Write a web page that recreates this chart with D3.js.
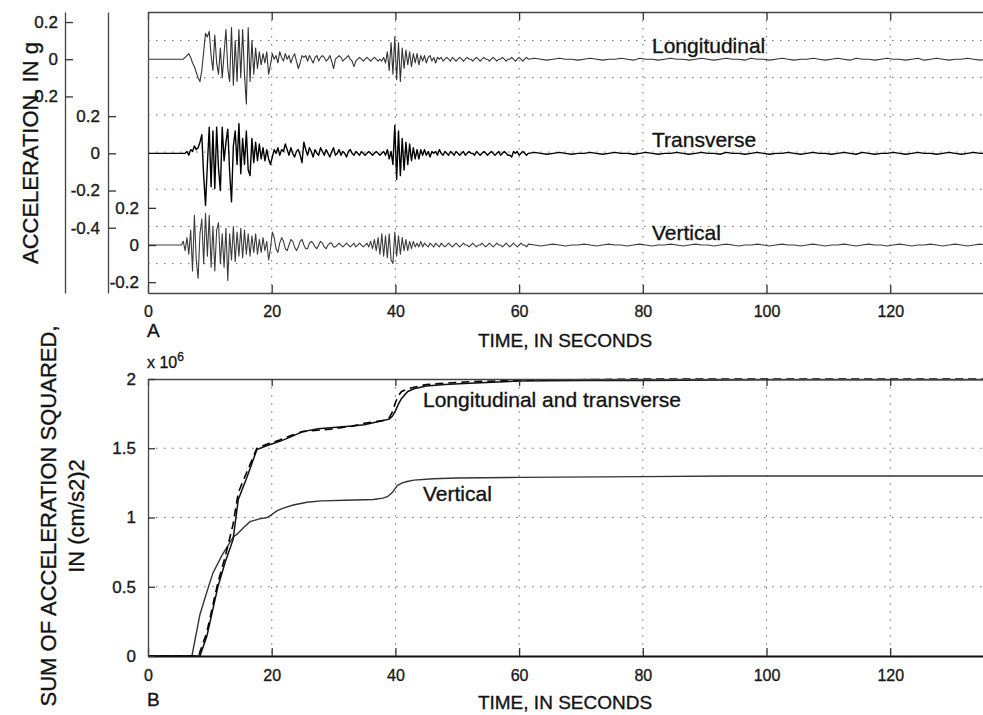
<!DOCTYPE html>
<html><head><meta charset="utf-8">
<script src="https://cdn.jsdelivr.net/npm/d3@7"></script>
<style>
body{margin:0;background:#fff;}
svg{display:block;font-family:"Liberation Sans",Arial,Helvetica,sans-serif;}
svg text{stroke:#1a1a1a;stroke-width:0.35px;}
</style></head><body>
<svg id="c" width="983" height="715"></svg>
<script>
// ---------------- DATA ----------------
const timeTicks = [0, 20, 40, 60, 80, 100, 120];
const tickLong = [-0.2, 0, 0.2];
const tickTrans = [-0.4, -0.2, 0, 0.2];
const tickVert = [-0.2, 0, 0.2];
const sumTicks = [0, 0.5, 1, 1.5, 2];

// acceleration traces, hundredths of g; main part sampled every 0.3 s from 4.5 s, coda every 1 s from 61.5 s
const mainStart = 4.5, mainStep = 0.3;
const codaStart = 61.5, codaStep = 1;

const accLong = [
  0,0,0,0,0,1,2,3,1,-2,          // 4.5
  -4,-7,-10,-12,-6,4,14,12,15,2, // 7.5
  -6,13,-2,-8,6,-10,3,16,-5,-12, // 10.5
  17,-14,10,-12,16,-10,16,-8,-24,17, // 13.5
  -12,10,-8,6,-5,4,-3,3,-2,4,    // 16.5
  -8,-3,3,0,2,-2,4,1,-1,3,       // 19.5
  0,2,-2,1,3,-1,-5,-2,2,1,       // 22.5
  2,-1,2,0,-2,1,2,-1,1,2,        // 25.5
  1,-1,0,2,-1,-5,0,1,2,1,        // 28.5
  -1,0,1,2,0,-1,-4,-1,0,1,       // 31.5
  0,-1,0,1,0,-1,0,1,0,-1,        // 34.5
  0,-1,1,-2,4,-6,9,-8,12,-11,    // 37.5
  9,-12,6,-5,5,-3,4,-4,3,-2,     // 40.5
  3,-3,2,-1,2,-2,1,2,-1,1,       // 43.5
  -2,1,0,1,-1,0,1,0,-1,1,        // 46.5
  0,-1,0,1,0,-1,0,1,0,0,         // 49.5
  -1,0,1,0,-1,0,1,0,0,-1,        // 52.5
  0,1,0,-1,0,0,1,0,-1,0,         // 55.5
  0,1,0,-1,0,1,0,-1,0,1          // 58.5
];
const accTrans = [
  0,0,0,0,0,0,1,-1,2,1,
  4,2,3,6,10,-12,-28,-6,14,-18,
  12,-19,14,-8,-20,14,-4,6,13,-10,
  -26,4,12,-6,16,-11,8,-6,12,-9,
  -12,8,-5,6,-4,5,-3,3,-4,2,
  -3,-6,-2,2,0,3,-1,2,1,5,
  2,-1,3,0,-2,1,2,-1,-5,6,
  2,-1,3,1,-2,2,0,-1,3,1,
  -1,2,0,-2,1,3,-1,0,2,-1,
  1,0,-2,1,2,0,-1,1,0,-1,
  1,0,-1,0,1,0,-1,0,1,0,
  -1,0,1,-1,2,-3,1,-6,15,-14,
  12,-12,8,-9,6,-6,5,-4,3,-3,
  2,-3,2,-1,2,-1,1,-2,1,0,
  1,-1,2,0,-1,1,0,-1,1,0,
  -1,1,0,-1,0,1,-1,0,1,0,
  0,-1,1,0,-1,0,1,0,-1,0,
  1,0,-1,0,1,-1,0,1,0,-1,
  -1,-2,1,0,1,-1,0,1,0,-1
];
const accVert = [
  0,0,0,0,2,-3,4,-5,8,-14,
  16,-8,-18,6,14,-10,17,-6,16,-12,
  10,-14,8,12,-10,6,-12,9,-19,6,
  -8,10,-9,7,-6,9,-7,8,-5,6,
  -6,5,-4,6,-5,3,-4,4,-3,2,
  -8,-2,7,4,-2,-4,1,4,2,-2,
  -3,0,3,2,-1,-3,-1,2,3,0,
  -2,-2,1,2,1,-1,-2,0,2,1,
  -1,-2,0,1,1,-1,-1,0,1,0,
  -1,0,1,0,-1,0,1,-1,0,1,
  0,-1,0,1,-1,2,-2,3,-3,4,
  -5,6,-6,5,-7,6,-8,-10,7,-6,
  5,-5,4,-3,3,-3,2,-2,2,-1,
  1,-1,2,-1,1,0,-1,1,0,-1,
  1,0,-1,1,0,-1,0,1,0,-1,
  0,1,0,-1,0,1,0,0,-1,0,
  1,0,-1,0,0,1,0,-1,0,1,
  0,-1,0,1,0,0,-1,0,1,0,
  -1,0,1,0,-1,0,1,0,0,-1
];
const codaLong = [
  0,0.5,0,-0.5,0,0.5,0,0,-0.5,0, 0.5,0,-0.5,0,0,0.5,0,-0.5,0.5,0,
  0,-0.5,0,0.5,0,0,-0.5,0,0.5,0, -0.5,0,0.5,0,0,-0.5,0.5,0,0,-0.5,
  0,0.5,0,-0.5,0,0,0.5,0,-0.5,0, 0.5,0,-0.5,0.5,0,0,-0.5,0,0.5,0,
  0,-0.5,0,0.5,-0.5,0,0.5,0,-0.5,0, 0,0.5,0,-0.5,0
];
const codaTrans = [
  0,0.5,0,-0.5,0,0.5,0,-0.5,0,0, 0.5,0,-0.5,0,0.5,0,0,-0.5,0,0.5,
  0,-0.5,0,0,0.5,0,-0.5,0,0.5,0, 0,-0.5,0.5,0,0,-0.5,0,0.5,0,-0.5,
  0,0,0.5,0,-0.5,0,0.5,0,0,-0.5, 0,0.5,0,-0.5,0.5,0,-0.5,0,0,0.5,
  0,-0.5,0,0.5,0,0,-0.5,0,0.5,0, -0.5,0,0.5,0,0
];
const codaVert = [
  0.5,0,-0.5,0,0.5,0,-0.5,0,0,0.5, 0,-0.5,0,0.5,0,0,-0.5,0,0.5,0,
  -0.5,0,0,0.5,0,-0.5,0,0.5,0,0, -0.5,0,0.5,0,-0.5,0,0,0.5,0,-0.5,
  0,0.5,0,0,-0.5,0,0.5,0,-0.5,0, 0,0.5,0,-0.5,0,0.5,0,0,-0.5,0,
  0.5,0,-0.5,0,0,0.5,0,-0.5,0,0.5, 0,-0.5,0,0.5,0
];

// cumulative sum of acceleration squared, x 10^6 (cm/s^2)^2
const tSumLT = [0,8.2,8.4,9.5,11.3,12.5,13.75,14.6,16,17.6,19.3,21.3,23,25,27.5,30,33,35,38,39,39.5,40,40.5,41,42,43,45,48,52,60,70,80,100,120,135];
const sumLong = [0,0,0,0.14,0.5,0.68,0.84,1.13,1.29,1.49,1.52,1.55,1.58,1.62,1.64,1.65,1.66,1.67,1.7,1.71,1.73,1.77,1.82,1.86,1.91,1.93,1.95,1.96,1.97,1.985,1.99,1.99,1.995,1.995,1.995];
const sumTrans = [0,0,0.03,0.17,0.53,0.72,0.95,1.18,1.33,1.5,1.53,1.56,1.59,1.62,1.63,1.64,1.66,1.68,1.7,1.72,1.76,1.83,1.88,1.91,1.93,1.94,1.96,1.97,1.98,1.99,1.995,2.0,2.0,2.0,2.0];
const tSumV = [0,7.1,8.4,9.5,10.5,12,13.8,14.4,15.5,16.5,18,19.3,20.9,22,23.5,25.7,28,32,36.4,38,38.7,39.5,40.3,41.1,41.9,43,46.1,50,60,80,93.7,110,135];
const sumVert = [0,0,0.3,0.46,0.6,0.73,0.86,0.88,0.93,0.97,0.99,1.0,1.05,1.07,1.09,1.11,1.12,1.125,1.13,1.14,1.15,1.18,1.23,1.25,1.26,1.27,1.28,1.285,1.29,1.295,1.3,1.3,1.3];

// ---------------- LAYOUT ----------------
const svg = d3.select("#c");
const A = {l:148, r:983, t:12, b:293};
const B = {l:148, r:983, t:379, b:656};
const timeDomain = [0, 135];
const domLong = [-1.257, 0.254], domTrans = [-0.751, 0.760], domVert = [-0.258, 1.253];
const gridA = [-0.1, 0.1, 0.3, 0.5, 0.7, 0.9, 1.1]; // in vertical-axis units

const xA = d3.scaleLinear().domain(timeDomain).range([A.l, A.r]);
const xB = d3.scaleLinear().domain(timeDomain).range([B.l, B.r]);
const yL = d3.scaleLinear().domain(domLong).range([A.b, A.t]);
const yT = d3.scaleLinear().domain(domTrans).range([A.b, A.t]);
const yV = d3.scaleLinear().domain(domVert).range([A.b, A.t]);
const yS = d3.scaleLinear().domain([0, 2]).range([B.b, B.t]);

const defs = svg.append("defs");
defs.append("clipPath").attr("id","clipA").append("rect")
  .attr("x",A.l).attr("y",A.t).attr("width",A.r-A.l).attr("height",A.b-A.t);
defs.append("clipPath").attr("id","clipB").append("rect")
  .attr("x",B.l).attr("y",B.t-1).attr("width",B.r-B.l).attr("height",B.b-B.t+1);

const gridStyle = s => s.attr("stroke","#777").attr("stroke-width",1).attr("stroke-dasharray","1.6,6.4").attr("fill","none");

// ---- Panel A grid ----
const gA = svg.append("g");
gA.selectAll("line.hg").data(gridA).enter().append("line")
  .attr("x1",A.l).attr("x2",A.r).attr("y1",d=>yV(d)).attr("y2",d=>yV(d)).call(gridStyle);
gA.selectAll("line.vg").data(timeTicks.slice(1)).enter().append("line")
  .attr("y1",A.t).attr("y2",A.b).attr("x1",d=>xA(d)).attr("x2",d=>xA(d)).call(gridStyle);

// ---- Panel A traces ----
function buildTrace(main, coda){
  const pts = [[0,0]];
  main.forEach((v,i)=>pts.push([mainStart+i*mainStep, v/100]));
  coda.forEach((v,i)=>pts.push([codaStart+i*codaStep, v/100]));
  return pts;
}
const traces = [
  {data: buildTrace(accLong, codaLong), y: yL, color:"#333", w:1.1},
  {data: buildTrace(accTrans, codaTrans), y: yT, color:"#000", w:1.4},
  {data: buildTrace(accVert, codaVert), y: yV, color:"#3c3c3c", w:1.1}
];
const gTr = svg.append("g").attr("clip-path","url(#clipA)");
traces.forEach(tr=>{
  gTr.append("path").datum(tr.data)
    .attr("fill","none").attr("stroke",tr.color).attr("stroke-width",tr.w).attr("stroke-linejoin","round")
    .attr("d", d3.line().x(d=>xA(d[0])).y(d=>tr.y(d[1])));
});

// ---- Panel A axes ----
function styleAxis(g, fs){
  g.selectAll(".domain").attr("stroke","#444").attr("stroke-width",1.3);
  g.selectAll(".tick line").attr("stroke","#333").attr("stroke-width",1.3);
  g.selectAll(".tick text").attr("font-size",fs).attr("fill","#1a1a1a")
    .attr("font-family","'Liberation Sans',Arial,Helvetica,sans-serif");
}
svg.append("g").attr("transform",`translate(0,${A.b})`)
  .call(d3.axisBottom(xA).tickValues(timeTicks).tickSizeInner(-8).tickSizeOuter(0).tickPadding(13).tickFormat(String))
  .call(g=>styleAxis(g,16));
svg.append("g").attr("transform",`translate(0,${A.t})`)
  .call(d3.axisTop(xA).tickValues(timeTicks).tickSizeInner(-8).tickSizeOuter(0).tickFormat(""))
  .call(g=>styleAxis(g,16));
svg.append("g").attr("transform","translate(65,0)")
  .call(d3.axisLeft(yL).tickValues(tickLong).tickSizeInner(-8).tickSizeOuter(0).tickPadding(7).tickFormat(String))
  .call(g=>styleAxis(g,17));
svg.append("g").attr("transform","translate(108,0)")
  .call(d3.axisLeft(yT).tickValues(tickTrans).tickSizeInner(-8).tickSizeOuter(0).tickPadding(8).tickFormat(String))
  .call(g=>styleAxis(g,17));
svg.append("g").attr("transform",`translate(${A.l},0)`)
  .call(d3.axisLeft(yV).tickValues(tickVert).tickSizeInner(-8).tickSizeOuter(0).tickPadding(9).tickFormat(String))
  .call(g=>styleAxis(g,17));

// ---- Panel A labels ----
const font = "'Liberation Sans',Arial,Helvetica,sans-serif";
function txt(x,y,s,fs,anchor){
  return svg.append("text").attr("x",x).attr("y",y).attr("font-size",fs).attr("fill","#111")
    .attr("font-family",font).attr("text-anchor",anchor||"start").text(s);
}
txt(652,53,"Longitudinal",21);
txt(652,147,"Transverse",21);
txt(652,240,"Vertical",21);
txt(147,337,"A",19);
txt(565,347,"TIME, IN SECONDS",19,"middle");
svg.append("text").attr("transform","translate(38,153) rotate(-90)")
  .attr("text-anchor","middle").attr("font-size",22).attr("fill","#111").attr("font-family",font)
  .text("ACCELERATION, IN g");

// ---- Panel B grid ----
const gB = svg.append("g");
gB.selectAll("line.hg").data(sumTicks.slice(1,4)).enter().append("line")
  .attr("x1",B.l).attr("x2",B.r).attr("y1",d=>yS(d)).attr("y2",d=>yS(d)).call(gridStyle);
gB.selectAll("line.vg").data(timeTicks.slice(1)).enter().append("line")
  .attr("y1",B.t).attr("y2",B.b).attr("x1",d=>xB(d)).attr("x2",d=>xB(d)).call(gridStyle);

// ---- Panel B curves ----
const gC = svg.append("g").attr("clip-path","url(#clipB)");
const lineB = d3.line().x(d=>xB(d[0])).y(d=>yS(d[1]));
gC.append("path").datum(tSumV.map((t,i)=>[t,sumVert[i]]))
  .attr("fill","none").attr("stroke","#333").attr("stroke-width",1.4).attr("d",lineB);
gC.append("path").datum(tSumLT.map((t,i)=>[t,sumLong[i]]))
  .attr("fill","none").attr("stroke","#111").attr("stroke-width",1.5).attr("d",lineB);
gC.append("path").datum(tSumLT.map((t,i)=>[t,sumTrans[i]]))
  .attr("fill","none").attr("stroke","#000").attr("stroke-width",1.6).attr("stroke-dasharray","8,5").attr("d",lineB);

// ---- Panel B axes ----
svg.append("g").attr("transform",`translate(0,${B.b})`)
  .call(d3.axisBottom(xB).tickValues(timeTicks).tickSizeInner(-8).tickSizeOuter(0).tickPadding(14).tickFormat(String))
  .call(g=>styleAxis(g,16))
  .call(g=>g.select(".domain").attr("stroke","#111").attr("stroke-width",2));
svg.append("g").attr("transform",`translate(0,${B.t})`)
  .call(d3.axisTop(xB).tickValues(timeTicks).tickSizeInner(-7).tickSizeOuter(0).tickFormat(""))
  .call(g=>styleAxis(g,16));
svg.append("g").attr("transform",`translate(${B.l},0)`)
  .call(d3.axisLeft(yS).tickValues(sumTicks).tickSizeInner(-7).tickSizeOuter(0).tickPadding(12).tickFormat(String))
  .call(g=>styleAxis(g,17));

// ---- Panel B labels ----
const xe = svg.append("text").attr("x",147).attr("y",368).attr("font-size",16).attr("fill","#111").attr("font-family",font);
xe.append("tspan").text("x 10");
xe.append("tspan").attr("dy",-7).attr("font-size",12).text("6");
txt(423,407,"Longitudinal and transverse",21);
txt(423,501,"Vertical",21);
txt(147,706,"B",19);
txt(565,709,"TIME, IN SECONDS",19,"middle");
svg.append("text").attr("transform","translate(56,516) rotate(-90)")
  .attr("text-anchor","middle").attr("font-size",22).attr("fill","#111").attr("font-family",font)
  .text("SUM OF ACCELERATION SQUARED,");
svg.append("text").attr("transform","translate(84,516) rotate(-90)")
  .attr("text-anchor","middle").attr("font-size",22).attr("fill","#111").attr("font-family",font)
  .text("IN (cm/s2)2");
</script>
</body></html>
